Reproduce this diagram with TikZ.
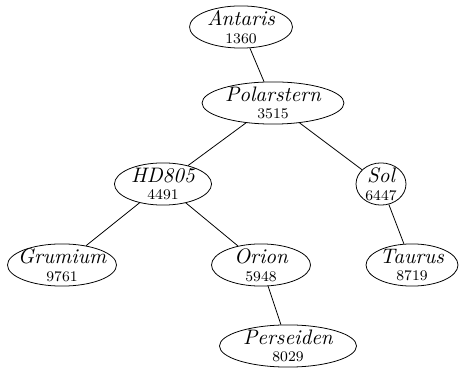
\documentclass[tikz,border=0pt]{standalone}
\usetikzlibrary{shapes.geometric}
\tikzset{stern/.style={draw, ellipse, inner xsep=-20pt, inner ysep=-10pt,
		minimum height=21.5pt, minimum width=#1, align=center}}
\newcommand{\stern}[2]{{\fontsize{10.7pt}{12pt}\selectfont\itshape #1}\\[-3pt]{\fontsize{7.5pt}{9pt}\selectfont #2}}
\begin{document}
\begin{tikzpicture}[x=0.51pt, y=-0.51pt]
		\useasboundingbox (0,0) rectangle (459,369);
		\node[stern=52.5pt] (antaris) at (241,27) {\stern{Antaris}{1360}};
		\node[stern=72.4pt] (polarstern) at (273,103) {\stern{Polarstern}{3515}};
		\node[stern=49.5pt] (hd) at (163,184) {\stern{HD805}{4491}};
		\node[stern=25.5pt] (sol) at (381,184) {\stern{Sol}{6447}};
		\node[stern=55.6pt] (grumium) at (62,265) {\stern{Grumium}{9761}};
		\node[stern=50.5pt] (orion) at (261,265) {\stern{Orion}{5948}};
		\node[stern=46.9pt] (taurus) at (412,265) {\stern{Taurus}{8719}};
		\node[stern=69.9pt] (perseiden) at (288,346) {\stern{Perseiden}{8029}};
		\draw (antaris) -- (polarstern);
		\draw (polarstern) -- (hd);
		\draw (polarstern) -- (sol);
		\draw (hd) -- (grumium);
		\draw (hd) -- (orion);
		\draw (sol) -- (taurus);
		\draw (orion) -- (perseiden);
		\end{tikzpicture}
\end{document}
